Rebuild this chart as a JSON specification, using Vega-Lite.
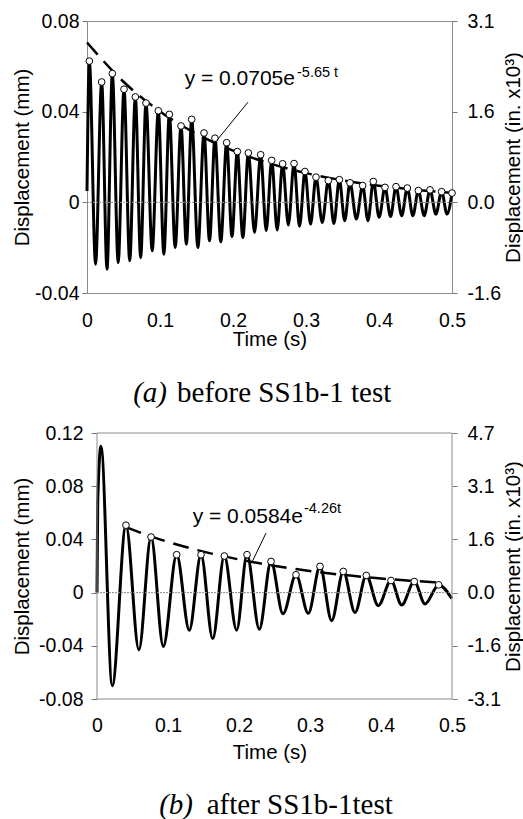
{
  "$schema": "https://vega.github.io/schema/vega-lite/v6.json",
  "background": "white",
  "padding": {"left": 12, "top": 10, "right": 0, "bottom": 0},
  "spacing": 14,
  "datasets": {
    "oscA": [
      {"t": 0, "y": 0.005}, {"t": 0.0032, "y": 0.0623}, {"t": 0.0117, "y": -0.0273}, {"t": 0.0201, "y": 0.0531},
      {"t": 0.0274, "y": -0.0295}, {"t": 0.0347, "y": 0.0568}, {"t": 0.0427, "y": -0.0266}, {"t": 0.0507, "y": 0.0499},
      {"t": 0.0585, "y": -0.0258}, {"t": 0.0662, "y": 0.0465}, {"t": 0.0735, "y": -0.0244}, {"t": 0.0808, "y": 0.0438},
      {"t": 0.0893, "y": -0.0214}, {"t": 0.0977, "y": 0.0404}, {"t": 0.1053, "y": -0.0229}, {"t": 0.1128, "y": 0.0388},
      {"t": 0.1208, "y": -0.0199}, {"t": 0.1288, "y": 0.0337}, {"t": 0.1361, "y": -0.0185}, {"t": 0.1434, "y": 0.0366},
      {"t": 0.1519, "y": -0.0199}, {"t": 0.1603, "y": 0.0306}, {"t": 0.1678, "y": -0.0170}, {"t": 0.1753, "y": 0.0283},
      {"t": 0.1833, "y": -0.0174}, {"t": 0.1913, "y": 0.0263}, {"t": 0.1986, "y": -0.0151}, {"t": 0.2059, "y": 0.0224},
      {"t": 0.2135, "y": -0.0155}, {"t": 0.2210, "y": 0.0218}, {"t": 0.2295, "y": -0.0133}, {"t": 0.2379, "y": 0.0210},
      {"t": 0.2455, "y": -0.0125}, {"t": 0.2530, "y": 0.0185}, {"t": 0.2605, "y": -0.0122}, {"t": 0.2680, "y": 0.0170},
      {"t": 0.2758, "y": -0.0100}, {"t": 0.2836, "y": 0.0171}, {"t": 0.2911, "y": -0.0106}, {"t": 0.2986, "y": 0.0136},
      {"t": 0.3062, "y": -0.0096}, {"t": 0.3137, "y": 0.0111}, {"t": 0.3222, "y": -0.0089}, {"t": 0.3306, "y": 0.0096},
      {"t": 0.3382, "y": -0.0093}, {"t": 0.3457, "y": 0.0100}, {"t": 0.3530, "y": -0.0081}, {"t": 0.3603, "y": 0.0086},
      {"t": 0.3690, "y": -0.0074}, {"t": 0.3776, "y": 0.0074}, {"t": 0.3849, "y": -0.0081}, {"t": 0.3922, "y": 0.0092},
      {"t": 0.4002, "y": -0.0066}, {"t": 0.4082, "y": 0.0066}, {"t": 0.4158, "y": -0.0063}, {"t": 0.4233, "y": 0.0069},
      {"t": 0.4311, "y": -0.0059}, {"t": 0.4388, "y": 0.0063}, {"t": 0.4464, "y": -0.0059}, {"t": 0.4539, "y": 0.0052},
      {"t": 0.4619, "y": -0.0059}, {"t": 0.4699, "y": 0.0055}, {"t": 0.4779, "y": -0.0052}, {"t": 0.4858, "y": 0.0047},
      {"t": 0.4932, "y": -0.0052}, {"t": 0.5, "y": 0.0041}
    ],
    "peaksA": [
      {"t": 0.0032, "y": 0.0623}, {"t": 0.0201, "y": 0.0531}, {"t": 0.0347, "y": 0.0568}, {"t": 0.0507, "y": 0.0499},
      {"t": 0.0662, "y": 0.0465}, {"t": 0.0808, "y": 0.0438}, {"t": 0.0977, "y": 0.0404}, {"t": 0.1128, "y": 0.0388},
      {"t": 0.1288, "y": 0.0337}, {"t": 0.1434, "y": 0.0366}, {"t": 0.1603, "y": 0.0306}, {"t": 0.1753, "y": 0.0283},
      {"t": 0.1913, "y": 0.0263}, {"t": 0.2059, "y": 0.0224}, {"t": 0.2210, "y": 0.0218}, {"t": 0.2379, "y": 0.0210},
      {"t": 0.2530, "y": 0.0185}, {"t": 0.2680, "y": 0.0170}, {"t": 0.2836, "y": 0.0171}, {"t": 0.2986, "y": 0.0136},
      {"t": 0.3137, "y": 0.0111}, {"t": 0.3306, "y": 0.0096}, {"t": 0.3457, "y": 0.0100}, {"t": 0.3603, "y": 0.0086},
      {"t": 0.3776, "y": 0.0074}, {"t": 0.3922, "y": 0.0092}, {"t": 0.4082, "y": 0.0066}, {"t": 0.4233, "y": 0.0069},
      {"t": 0.4388, "y": 0.0063}, {"t": 0.4539, "y": 0.0052}, {"t": 0.4699, "y": 0.0055}, {"t": 0.4858, "y": 0.0047},
      {"t": 0.5, "y": 0.0041}
    ],
    "fitA": [
      {"t": 0, "y": 0.0705}, {"t": 0.05, "y": 0.0532}, {"t": 0.1, "y": 0.0401}, {"t": 0.15, "y": 0.0302},
      {"t": 0.2, "y": 0.0228}, {"t": 0.25, "y": 0.0172}, {"t": 0.3, "y": 0.0129}, {"t": 0.35, "y": 0.00976},
      {"t": 0.4, "y": 0.00736}, {"t": 0.45, "y": 0.00555}, {"t": 0.5, "y": 0.00418}
    ],
    "oscB": [
      {"t": 0, "y": 0}, {"t": 0.001, "y": 0.0676}, {"t": 0.0056, "y": 0.110}, {"t": 0.0215, "y": -0.070},
      {"t": 0.0408, "y": 0.0507}, {"t": 0.0590, "y": -0.0430}, {"t": 0.0761, "y": 0.0418}, {"t": 0.0934, "y": -0.0404},
      {"t": 0.1122, "y": 0.0285}, {"t": 0.1300, "y": -0.0283}, {"t": 0.1465, "y": 0.0285}, {"t": 0.1630, "y": -0.0346},
      {"t": 0.1793, "y": 0.0275}, {"t": 0.1967, "y": -0.0283}, {"t": 0.2113, "y": 0.0285}, {"t": 0.2286, "y": -0.0276},
      {"t": 0.2451, "y": 0.0234}, {"t": 0.2620, "y": -0.0159}, {"t": 0.2803, "y": 0.0134}, {"t": 0.2976, "y": -0.0156},
      {"t": 0.3141, "y": 0.0197}, {"t": 0.3305, "y": -0.0211}, {"t": 0.3469, "y": 0.0159}, {"t": 0.3634, "y": -0.0149},
      {"t": 0.3793, "y": 0.0129}, {"t": 0.3962, "y": -0.0098}, {"t": 0.4141, "y": 0.0091}, {"t": 0.4291, "y": -0.0093},
      {"t": 0.4469, "y": 0.0083}, {"t": 0.4620, "y": -0.0085}, {"t": 0.4812, "y": 0.0058}, {"t": 0.4996, "y": -0.0044}
    ],
    "peaksB": [
      {"t": 0.0408, "y": 0.0507}, {"t": 0.0761, "y": 0.0418}, {"t": 0.1122, "y": 0.0285}, {"t": 0.1465, "y": 0.0285},
      {"t": 0.1793, "y": 0.0275}, {"t": 0.2113, "y": 0.0285}, {"t": 0.2451, "y": 0.0234}, {"t": 0.2803, "y": 0.0134},
      {"t": 0.3141, "y": 0.0197}, {"t": 0.3469, "y": 0.0159}, {"t": 0.3793, "y": 0.0129}, {"t": 0.4141, "y": 0.0091},
      {"t": 0.4469, "y": 0.0083}, {"t": 0.4812, "y": 0.0058}
    ],
    "fitB": [
      {"t": 0.0408, "y": 0.0492}, {"t": 0.08, "y": 0.0415}, {"t": 0.12, "y": 0.0350}, {"t": 0.16, "y": 0.0295},
      {"t": 0.2, "y": 0.0249}, {"t": 0.24, "y": 0.0210}, {"t": 0.28, "y": 0.0177}, {"t": 0.32, "y": 0.0149},
      {"t": 0.36, "y": 0.0126}, {"t": 0.40, "y": 0.0106}, {"t": 0.44, "y": 0.0090}, {"t": 0.48, "y": 0.0076}
    ]
  },
  "vconcat": [
    {
      "width": 365,
      "height": 272,
      "resolve": {"scale": {"y": "independent"}},
      "layer": [
        {
          "layer": [
            {
              "data": {"name": "oscA"},
              "mark": {"type": "line", "color": "black", "strokeWidth": 3, "interpolate": "monotone"},
              "encoding": {
                "x": {"field": "t", "type": "quantitative", "scale": {"domain": [0, 0.5], "nice": false, "zero": false},
                  "axis": {"title": "Time (s)", "values": [0, 0.1, 0.2, 0.3, 0.4, 0.5],
                    "labelExpr": "datum.value == 0 ? '0' : format(datum.value, '.1f')",
                    "grid": false, "domain": false, "tickSize": 0, "labelPadding": 18, "titlePadding": 0, "labelFlush": false}},
                "y": {"field": "y", "type": "quantitative", "scale": {"domain": [-0.04, 0.08], "nice": false, "zero": false},
                  "axis": {"orient": "left", "title": "Displacement (mm)", "values": [-0.04, 0, 0.04, 0.08],
                    "labelExpr": "datum.value == 0 ? '0' : replace(format(datum.value, '.2f'), '−', '-')",
                    "grid": false, "domain": false, "tickSize": 5, "labelPadding": 3, "titlePadding": 2}}
              }
            },
            {
              "data": {"values": [{}]},
              "mark": {"type": "rule", "stroke": "#8c8c8c", "strokeWidth": 1, "strokeDash": [2, 1]},
              "encoding": {
                "x": {"datum": 0, "type": "quantitative"},
                "x2": {"datum": 0.5},
                "y": {"datum": 0, "type": "quantitative"}
              }
            },
            {
              "data": {"name": "fitA"},
              "mark": {"type": "line", "color": "black", "strokeWidth": 2.5, "strokeDash": [16, 9], "interpolate": "monotone"},
              "encoding": {
                "x": {"field": "t", "type": "quantitative"},
                "y": {"field": "y", "type": "quantitative"}
              }
            },
            {
              "data": {"name": "peaksA"},
              "mark": {"type": "point", "shape": "circle", "filled": true, "fill": "white", "stroke": "black", "strokeWidth": 1, "size": 45, "opacity": 1},
              "encoding": {
                "x": {"field": "t", "type": "quantitative"},
                "y": {"field": "y", "type": "quantitative"}
              }
            },
            {
              "data": {"values": [{}]},
              "mark": {"type": "rule", "color": "black", "strokeWidth": 1},
              "encoding": {
                "x": {"datum": 0.2205, "type": "quantitative"},
                "y": {"datum": 0.0442, "type": "quantitative"},
                "x2": {"datum": 0.1781},
                "y2": {"datum": 0.0274}
              }
            },
            {
              "data": {"values": [{}]},
              "mark": {"type": "text", "text": "y = 0.0705e", "font": "Liberation Sans", "fontSize": 21, "align": "right", "baseline": "alphabetic", "color": "black"},
              "encoding": {
                "x": {"datum": 0.2849, "type": "quantitative"},
                "y": {"datum": 0.0517, "type": "quantitative"}
              }
            },
            {
              "data": {"values": [{}]},
              "mark": {"type": "text", "text": "-5.65 t", "font": "Liberation Sans", "fontSize": 14.5, "align": "left", "baseline": "alphabetic", "color": "black"},
              "encoding": {
                "x": {"datum": 0.2877, "type": "quantitative"},
                "y": {"datum": 0.0555, "type": "quantitative"}
              }
            },
            {
              "data": {"values": [{}]},
              "mark": {"type": "text", "text": "(a)", "font": "Liberation Serif", "fontStyle": "italic", "fontSize": 29, "align": "right", "baseline": "alphabetic", "color": "black"},
              "encoding": {
                "x": {"datum": 0.1096, "type": "quantitative"},
                "y": {"datum": -0.0883, "type": "quantitative"}
              }
            },
            {
              "data": {"values": [{}]},
              "mark": {"type": "text", "text": "before SS1b-1 test", "font": "Liberation Serif", "fontSize": 29, "align": "left", "baseline": "alphabetic", "color": "black"},
              "encoding": {
                "x": {"datum": 0.1233, "type": "quantitative"},
                "y": {"datum": -0.0883, "type": "quantitative"}
              }
            }
          ]
        },
        {
          "data": {"values": [{}]},
          "mark": {"type": "rule", "opacity": 0},
          "encoding": {
            "x": {"datum": 0, "type": "quantitative"},
            "x2": {"datum": 0.5},
            "y": {"datum": 0, "type": "quantitative", "scale": {"domain": [-1.5748, 3.1496], "nice": false, "zero": false},
              "axis": {"orient": "right", "title": "Displacement (in. x10³)", "titleAngle": 270, "titleBaseline": "top", "values": [-1.5748, 0, 1.5748, 3.1496],
                "labelExpr": "replace(format(datum.value, '.1f'), '−', '-')",
                "grid": false, "domain": false, "tickSize": 5, "labelPadding": 10, "titlePadding": 3}}
          }
        }
      ]
    },
    {
      "width": 365,
      "height": 266,
      "view": {"stroke": null},
      "resolve": {"scale": {"y": "independent"}},
      "layer": [
        {
          "layer": [
            {
              "data": {"name": "oscB"},
              "mark": {"type": "line", "color": "black", "strokeWidth": 3, "interpolate": "monotone"},
              "encoding": {
                "x": {"field": "t", "type": "quantitative", "scale": {"domain": [-0.014085, 0.5], "nice": false, "zero": false},
                  "axis": {"title": "Time (s)", "values": [0, 0.1, 0.2, 0.3, 0.4, 0.5],
                    "labelExpr": "datum.value == 0 ? '0' : format(datum.value, '.1f')",
                    "grid": false, "domain": false, "tickSize": 0, "labelPadding": 17, "titlePadding": 8, "labelFlush": false}},
                "y": {"field": "y", "type": "quantitative", "scale": {"domain": [-0.08, 0.12], "nice": false, "zero": false},
                  "axis": {"orient": "left", "offset": -10, "title": "Displacement (mm)", "values": [-0.08, -0.04, 0, 0.04, 0.08, 0.12],
                    "labelExpr": "datum.value == 0 ? '0' : replace(format(datum.value, '.2f'), '−', '-')",
                    "grid": false, "domain": false, "tickSize": 6, "labelPadding": 8, "titlePadding": 6}}
              }
            },
            {
              "data": {"values": [{}]},
              "mark": {"type": "rect", "filled": false, "stroke": "#8c8c8c", "strokeWidth": 1},
              "encoding": {
                "x": {"datum": 0, "type": "quantitative"},
                "x2": {"datum": 0.5},
                "y": {"datum": -0.08, "type": "quantitative"},
                "y2": {"datum": 0.12}
              }
            },
            {
              "data": {"values": [{}]},
              "mark": {"type": "rule", "stroke": "#8c8c8c", "strokeWidth": 1, "strokeDash": [2, 1]},
              "encoding": {
                "x": {"datum": 0, "type": "quantitative"},
                "x2": {"datum": 0.5},
                "y": {"datum": 0, "type": "quantitative"}
              }
            },
            {
              "data": {"name": "fitB"},
              "mark": {"type": "line", "color": "black", "strokeWidth": 2.5, "strokeDash": [16, 9], "interpolate": "monotone"},
              "encoding": {
                "x": {"field": "t", "type": "quantitative"},
                "y": {"field": "y", "type": "quantitative"}
              }
            },
            {
              "data": {"name": "peaksB"},
              "mark": {"type": "point", "shape": "circle", "filled": true, "fill": "white", "stroke": "black", "strokeWidth": 1, "size": 45, "opacity": 1},
              "encoding": {
                "x": {"field": "t", "type": "quantitative"},
                "y": {"field": "y", "type": "quantitative"}
              }
            },
            {
              "data": {"values": [{}]},
              "mark": {"type": "rule", "color": "black", "strokeWidth": 1},
              "encoding": {
                "x": {"datum": 0.238, "type": "quantitative"},
                "y": {"datum": 0.0447, "type": "quantitative"},
                "x2": {"datum": 0.2183},
                "y2": {"datum": 0.0229}
              }
            },
            {
              "data": {"values": [{}]},
              "mark": {"type": "text", "text": "y = 0.0584e", "font": "Liberation Sans", "fontSize": 21, "align": "right", "baseline": "alphabetic", "color": "black"},
              "encoding": {
                "x": {"datum": 0.2901, "type": "quantitative"},
                "y": {"datum": 0.0522, "type": "quantitative"}
              }
            },
            {
              "data": {"values": [{}]},
              "mark": {"type": "text", "text": "-4.26t", "font": "Liberation Sans", "fontSize": 14.5, "align": "left", "baseline": "alphabetic", "color": "black"},
              "encoding": {
                "x": {"datum": 0.2915, "type": "quantitative"},
                "y": {"datum": 0.0598, "type": "quantitative"}
              }
            },
            {
              "data": {"values": [{}]},
              "mark": {"type": "text", "text": "(b)", "font": "Liberation Serif", "fontStyle": "italic", "fontSize": 29, "align": "right", "baseline": "alphabetic", "color": "black"},
              "encoding": {
                "x": {"datum": 0.1352, "type": "quantitative"},
                "y": {"datum": -0.1662, "type": "quantitative"}
              }
            },
            {
              "data": {"values": [{}]},
              "mark": {"type": "text", "text": "after SS1b-1test", "font": "Liberation Serif", "fontSize": 29, "align": "left", "baseline": "alphabetic", "color": "black"},
              "encoding": {
                "x": {"datum": 0.1545, "type": "quantitative"},
                "y": {"datum": -0.1662, "type": "quantitative"}
              }
            }
          ]
        },
        {
          "data": {"values": [{}]},
          "mark": {"type": "rule", "opacity": 0},
          "encoding": {
            "x": {"datum": 0, "type": "quantitative"},
            "x2": {"datum": 0.5},
            "y": {"datum": 0, "type": "quantitative", "scale": {"domain": [-3.1496, 4.7244], "nice": false, "zero": false},
              "axis": {"orient": "right", "title": "Displacement (in. x10³)", "titleAngle": 270, "titleBaseline": "top", "values": [-3.1496, -1.5748, 0, 1.5748, 3.1496, 4.7244],
                "labelExpr": "replace(format(datum.value, '.1f'), '−', '-')",
                "grid": false, "domain": false, "tickSize": 5, "labelPadding": 10, "titlePadding": 3}}
          }
        }
      ]
    }
  ],
  "config": {
    "view": {"stroke": "#8c8c8c", "strokeWidth": 1},
    "axis": {
      "labelFont": "Liberation Sans", "titleFont": "Liberation Sans",
      "labelFontSize": 19.5, "titleFontSize": 20.5, "titleFontWeight": "normal",
      "labelColor": "black", "titleColor": "black", "tickColor": "#777"
    }
  }
}
